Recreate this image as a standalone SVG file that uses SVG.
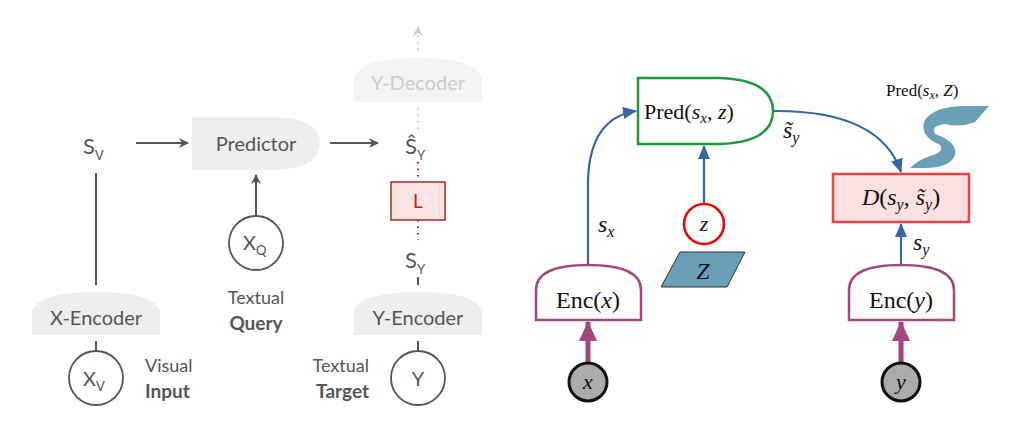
<svg xmlns="http://www.w3.org/2000/svg" width="1024" height="427" viewBox="0 0 1024 427">
<defs>
<style>
.l{font-family:Lato,"Open Sans",sans-serif;fill:#555;}
.ln{stroke:#555;stroke-width:2;fill:none}
.m{font-family:"Liberation Serif",serif;fill:#111;}
.i{font-style:italic}
.bl{stroke:#3566a8;stroke-width:2.2;fill:none}
</style>
<marker id="ag" markerWidth="10" markerHeight="10" refX="9" refY="5" orient="auto" markerUnits="userSpaceOnUse"><path d="M0,0 L10,5 L0,10 L3,5 Z" fill="#555"/></marker>
<marker id="agl" markerWidth="10" markerHeight="10" refX="9" refY="5" orient="auto" markerUnits="userSpaceOnUse"><path d="M0,0 L10,5 L0,10 L3,5 Z" fill="#ccc"/></marker>
<marker id="ab" markerWidth="14" markerHeight="12" refX="13" refY="6" orient="auto" markerUnits="userSpaceOnUse"><path d="M0,0 L14,6 L0,12 Z" fill="#3566a8"/></marker>
<marker id="ap" markerWidth="20" markerHeight="18" refX="19" refY="9" orient="auto" markerUnits="userSpaceOnUse"><path d="M0,0 L20,9 L0,18 Z" fill="#a0487f"/></marker>
</defs>
<rect width="1024" height="427" fill="#fff"/>
<g id="connectors">
<line class="ln" x1="136" y1="143" x2="188" y2="143" marker-end="url(#ag)"/>
<line class="ln" x1="330" y1="143" x2="378" y2="143" marker-end="url(#ag)"/>
<line class="ln" x1="96" y1="173" x2="96" y2="285"/>
<line class="ln" x1="96" y1="341" x2="96" y2="352"/>
<line class="ln" x1="256" y1="216" x2="256" y2="175" marker-end="url(#ag)"/>
<line class="ln" x1="418" y1="277" x2="418" y2="285"/>
<line class="ln" x1="418" y1="341" x2="418" y2="352"/>
<line x1="418" y1="162" x2="418" y2="181" stroke="#b22" stroke-width="2" stroke-dasharray="1.5,5"/>
<line x1="418" y1="220" x2="418" y2="240" stroke="#b22" stroke-width="2" stroke-dasharray="1.5,5"/>
<line x1="418" y1="108" x2="418" y2="130" stroke="#ccc" stroke-width="2" stroke-dasharray="1.5,5"/>
<line x1="418" y1="50" x2="418" y2="27" stroke="#ccc" stroke-width="2" stroke-dasharray="1.5,5" marker-end="url(#agl)"/>
<path class="bl" d="M588,265 L588,180 Q590,118 636,111" marker-end="url(#ab)"/>
<path class="bl" d="M773,111 Q880,110 901,172" marker-end="url(#ab)"/>
<line class="bl" x1="704" y1="203" x2="704" y2="146" marker-end="url(#ab)"/>
<line class="bl" x1="901" y1="265" x2="901" y2="224" marker-end="url(#ab)"/>
<line x1="588" y1="362" x2="588" y2="322" stroke="#a0487f" stroke-width="5" marker-end="url(#ap)"/>
<line x1="901" y1="362" x2="901" y2="322" stroke="#a0487f" stroke-width="5" marker-end="url(#ap)"/>
</g>
<g id="sv"><text class="l" x="83" y="154" font-size="22">S<tspan font-size="13" dy="6">V</tspan></text></g>
<g id="predictor"><path d="M192,117 H270 Q320,117 320,143 Q320,170 270,170 H192 Z" fill="#eee"/><text class="l" x="256" y="151" font-size="20" text-anchor="middle">Predictor</text></g>
<g id="shat"><text class="l" x="405" y="154" font-size="22">Ŝ<tspan font-size="13" dy="6">Y</tspan></text></g>
<g id="loss"><rect x="391" y="182" width="54" height="38" fill="#fde4e4" stroke="#b22" stroke-width="1.5"/><text x="418" y="208" font-size="19" text-anchor="middle" font-family="Lato,sans-serif" fill="#b22">L</text></g>
<g id="sy"><text class="l" x="405" y="268" font-size="22">S<tspan font-size="13" dy="6">Y</tspan></text></g>
<g id="ydec"><path d="M354,102 V78 Q360,58 418,58 Q476,58 482,78 V102 Z" fill="#f3f3f3"/><text x="418" y="90" font-size="20" text-anchor="middle" font-family="Lato,sans-serif" fill="#ccc">Y-Decoder</text></g>
<g id="xenc"><path d="M32,335 V311 Q38,292 96,292 Q154,292 160,311 V335 Z" fill="#eee"/><text class="l" x="96" y="325" font-size="20" text-anchor="middle">X-Encoder</text></g>
<g id="yenc"><path d="M354,335 V311 Q360,292 418,292 Q476,292 482,311 V335 Z" fill="#eee"/><text class="l" x="418" y="325" font-size="20" text-anchor="middle">Y-Encoder</text></g>
<g id="xv"><circle cx="96" cy="378" r="27" fill="#fff" stroke="#555" stroke-width="1.8"/><text class="l" x="83" y="386" font-size="20">X<tspan font-size="13" dy="5">V</tspan></text></g>
<g id="xq"><circle cx="256" cy="243" r="27" fill="#fff" stroke="#555" stroke-width="1.8"/><text class="l" x="243" y="250" font-size="20">X<tspan font-size="13" dy="5">Q</tspan></text></g>
<g id="y"><circle cx="418" cy="378" r="27" fill="#fff" stroke="#555" stroke-width="1.8"/><text class="l" x="418" y="386" font-size="20" text-anchor="middle">Y</text></g>
<g id="labels">
<text class="l" x="256" y="304" font-size="18" text-anchor="middle">Textual</text>
<text class="l" x="256" y="330" font-size="19" text-anchor="middle" font-weight="bold">Query</text>
<text class="l" x="145" y="372" font-size="18">Visual</text>
<text class="l" x="145" y="398" font-size="19" font-weight="bold">Input</text>
<text class="l" x="369" y="372" font-size="18" text-anchor="end">Textual</text>
<text class="l" x="369" y="398" font-size="19" font-weight="bold" text-anchor="end">Target</text>
</g>
<g id="pred"><path d="M638,78 H720 Q773,80 773,111 Q773,142 720,144 H638 Z" fill="#fff" stroke="#1a9a3a" stroke-width="2.5"/><text class="m" x="644" y="119" font-size="22">Pred(<tspan class="i">s</tspan><tspan class="i" font-size="15" dy="4">x</tspan><tspan dy="-4">, </tspan><tspan class="i">z</tspan>)</text></g>
<g id="encx"><path d="M536,320 V290 Q536,265 588,265 Q641,265 641,290 V320 Z" fill="#fff" stroke="#a0487f" stroke-width="2.5"/><text class="m" x="588" y="308" font-size="24" text-anchor="middle">Enc(<tspan class="i">x</tspan>)</text></g>
<g id="ency"><path d="M849,320 V290 Q849,265 901,265 Q954,265 954,290 V320 Z" fill="#fff" stroke="#a0487f" stroke-width="2.5"/><text class="m" x="901" y="308" font-size="24" text-anchor="middle">Enc(<tspan class="i">y</tspan>)</text></g>
<g id="dist"><rect x="833" y="174" width="136" height="48" fill="#fde0e0" stroke="#f04040" stroke-width="2.5"/><text class="m" x="901" y="205" font-size="24" text-anchor="middle"><tspan class="i">D</tspan>(<tspan class="i">s</tspan><tspan class="i" font-size="16" dy="5">y</tspan><tspan dy="-5">, </tspan><tspan class="i">s̃</tspan><tspan class="i" font-size="16" dy="5">y</tspan><tspan dy="-5">)</tspan></text></g>
<g id="zc"><circle cx="704" cy="224" r="20" fill="#fff" stroke="#e00" stroke-width="2.5"/><text class="m i" x="704" y="231" font-size="22" text-anchor="middle">z</text></g>
<g id="zset"><polygon points="680,252 745,252 727,287 661,287" fill="#6a9fb8" stroke="#333" stroke-width="1"/><text class="m i" x="703" y="279" font-size="24" text-anchor="middle">Z</text></g>
<g id="xc"><circle cx="588" cy="382" r="19" fill="#aaa" stroke="#111" stroke-width="3"/><text class="m i" x="588" y="389" font-size="22" text-anchor="middle">x</text></g>
<g id="yc"><circle cx="901" cy="382" r="19" fill="#aaa" stroke="#111" stroke-width="3"/><text class="m i" x="901" y="389" font-size="22" text-anchor="middle">y</text></g>
<g id="slabels">
<text class="m i" x="598" y="232" font-size="24">s<tspan font-size="16" dy="5">x</tspan></text>
<text class="m i" x="783" y="138" font-size="24">s̃<tspan font-size="16" dy="5">y</tspan></text>
<text class="m i" x="913" y="250" font-size="24">s<tspan font-size="16" dy="5">y</tspan></text>
<text class="m" x="886" y="96" font-size="17">Pred(<tspan class="i">s</tspan><tspan class="i" font-size="12" dy="3">x</tspan><tspan dy="-3">, </tspan><tspan class="i">Z</tspan>)</text>
</g>
<g id="sshape"><path d="M989,106 L975,122 Q960,128 945,124 Q930,126 935,134 Q958,142 955,155 Q950,168 925,168 L910,168 Q918,160 930,156 Q945,152 940,145 Q918,135 925,120 Q935,106 965,106 Z" fill="#6a9fb8"/></g>
</svg>
